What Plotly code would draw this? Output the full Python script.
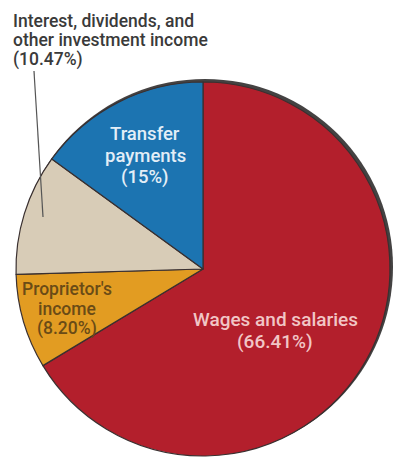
import plotly.graph_objects as go

# Sources of personal income (shares, %)
categories = ["Wages and salaries", "Proprietor's income",
              "Interest, dividends, and other investment income", "Transfer payments"]
shares = [66.41, 8.20, 10.47, 15]
share_decimals = [2, 2, 2, 0]
slice_colors = ["#b31f2c", "#e29c22", "#d8ccb7", "#1c74b1"]

# how each category name is broken over lines in its label
label_lines = [
    ["Wages and salaries"],
    ["Proprietor's", "income"],
    ["Interest, dividends, and", "other investment income"],
    ["Transfer", "payments"],
]

W, H = 393, 458
# pie geometry in pixels
cx, cy, r = 203, 269, 187

def px(x):
    return min(max(x / W, 0.0), 1.0)

def py(y):
    return min(max((H - y) / H, 0.0), 1.0)

def pie_domain(x0, y0, rad):
    return dict(x=[px(x0 - rad), px(x0 + rad)], y=[py(y0 + rad), py(y0 - rad)])

fig = go.Figure()
# dark rim sitting just behind the disc, offset up and to the right
fig.add_trace(go.Pie(
    values=[1], labels=["rim"], sort=False,
    marker=dict(colors=["#444242"], line=dict(width=0)),
    textinfo="none", hoverinfo="skip", showlegend=False,
    domain=pie_domain(cx + 2, cy - 2, r + 1),
))
fig.add_trace(go.Pie(
    labels=categories,
    values=shares,
    sort=False,
    direction="clockwise",
    rotation=0,
    marker=dict(colors=slice_colors, line=dict(color="#3a3030", width=1.2)),
    textinfo="none",
    hoverinfo="label+percent",
    showlegend=False,
    domain=pie_domain(cx, cy, r),
))

shapes = [
    # leader line for the investment-income label
    dict(type="line", xref="paper", yref="paper",
         x0=px(34), y0=py(71), x1=px(43), y1=py(217),
         line=dict(color="#555555", width=1.2)),
]

# label placement: anchor x, first line centre y, line step, size, colour, alignment
label_style = [
    dict(x=275, y=319, step=22.5, size=19, color="#f1c6c6", anchor="center"),
    dict(x=67, y=289, step=19.5, size=17.5, color="#6a4b16", anchor="center"),
    dict(x=11, y=21, step=19.5, size=17.5, color="#3a3a3a", anchor="left"),
    dict(x=145, y=134, step=21.5, size=18.5, color="#e3eef7", anchor="center"),
]

annotations = []
for lines, value, dec, st in zip(label_lines, shares, share_decimals, label_style):
    rows = lines + [f"({value:.{dec}f}%)"]
    for i, row in enumerate(rows):
        annotations.append(dict(
            text=row, x=px(st["x"]), y=py(st["y"] + i * st["step"]),
            xref="paper", yref="paper", showarrow=False,
            xanchor=st["anchor"], yanchor="middle",
            font=dict(family="Roboto, Arial, sans-serif", size=st["size"],
                      color=st["color"], weight=500),
        ))

fig.update_layout(
    width=W, height=H,
    margin=dict(l=0, r=0, t=0, b=0),
    paper_bgcolor="white", plot_bgcolor="white",
    shapes=shapes, annotations=annotations,
)

fig.write_html("out.html")
